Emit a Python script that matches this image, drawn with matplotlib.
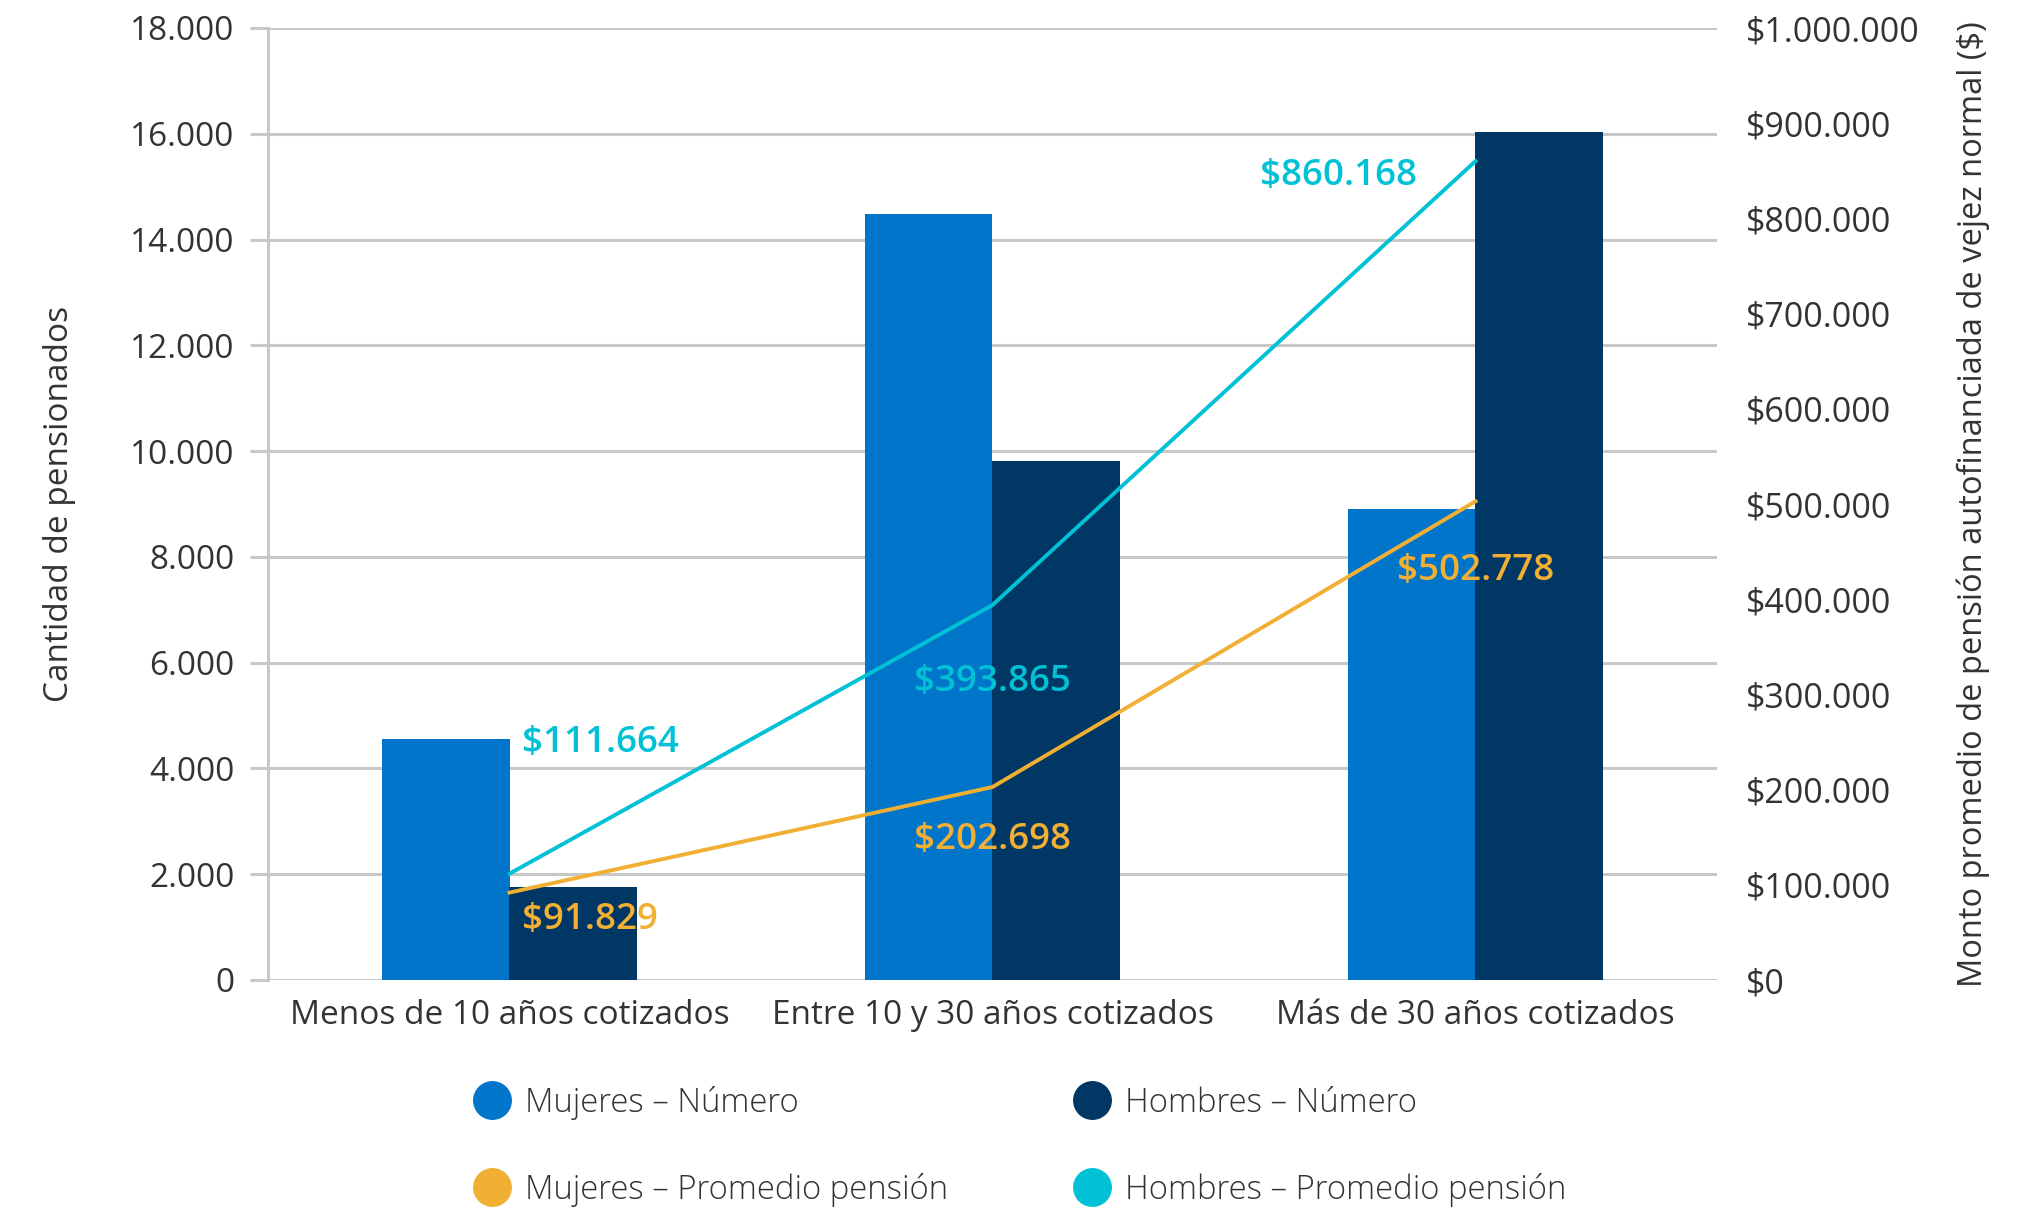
import matplotlib
matplotlib.use("Agg")
import matplotlib.pyplot as plt
from matplotlib.lines import Line2D
import numpy as np

categories = ["Menos de 10 años cotizados", "Entre 10 y 30 años cotizados", "Más de 30 años cotizados"]
mujeres_num = [4550, 14480, 8900]
hombres_num = [1760, 9820, 16030]
mujeres_prom = [91829, 202698, 502778]
hombres_prom = [111664, 393865, 860168]
left_ticks = list(range(0, 18001, 2000))
right_ticks = list(range(0, 1000001, 100000))

C_MUJ = "#0075C9"
C_HOM = "#003764"
C_MUJ_L = "#F1AF33"
C_HOM_L = "#00C1D6"
GRID = "#C8C8C8"
TXT = "#333333"

plt.rcParams["font.family"] = ["Open Sans", "DejaVu Sans"]

def fmt(v):
    return f"{int(round(v)):,}".replace(",", ".")

fig = plt.figure(figsize=(20.4, 12.08), dpi=100)
ax = fig.add_axes([268/2040, 1-980/1208, (1717-268)/2040, (980-28)/1208])
x = np.arange(len(categories))
w = 0.265
ax.bar(x - w/2, mujeres_num, width=w, color=C_MUJ, zorder=2)
ax.bar(x + w/2, hombres_num, width=w, color=C_HOM, zorder=2)
ax.set_xlim(-0.5, 2.5)
ax.set_ylim(0, 18000)
ax.set_yticks(left_ticks)
ax.set_yticklabels([fmt(v) for v in left_ticks])
ax.yaxis.grid(True, color=GRID, linewidth=2.2)
ax.set_axisbelow(True)
for s in ["top", "right", "bottom"]:
    ax.spines[s].set_visible(False)
ax.spines["left"].set_color(GRID)
ax.spines["left"].set_linewidth(2.2)
ax.tick_params(axis="y", length=13, width=2.2, color=GRID, pad=11, labelsize=24, labelcolor=TXT)
ax.set_xticks(x)
ax.set_xticklabels(categories)
ax.tick_params(axis="x", length=0, pad=14, labelsize=24, labelcolor=TXT)
ax.set_ylabel("Cantidad de pensionados", fontsize=24, color=TXT)
ax.yaxis.set_label_coords(-(268-76)/1449, 0.5)

ax2 = ax.twinx()
ax2.set_ylim(0, 1000000)
ax2.plot(x, hombres_prom, color=C_HOM_L, linewidth=2.8, zorder=3)
ax2.plot(x, mujeres_prom, color=C_MUJ_L, linewidth=2.8, zorder=3)
for s in ax2.spines.values():
    s.set_visible(False)
ax2.set_yticks(right_ticks)
ax2.set_yticklabels(["$" + fmt(v) for v in right_ticks])
ax2.tick_params(axis="y", length=0, pad=21, labelsize=24.5, labelcolor=TXT)
ax2.set_ylabel("Monto promedio de pensión autofinanciada de vejez normal ($)", fontsize=23.5, color=TXT)
ax2.yaxis.set_label_coords(1 + (1957-1717)/1449, 0.5)

offsets_h = [(12, 131, "left"), (0, -77, "center"), (-58, -15, "right")]
offsets_m = [(12, -27, "left"), (0, -53, "center"), (0, -70, "center")]
for i in range(3):
    dx, dy, ha = offsets_h[i]
    ax2.annotate("$" + fmt(hombres_prom[i]), (x[i], hombres_prom[i]), xytext=(dx, dy),
                 textcoords="offset pixels", ha=ha, va="center", color=C_HOM_L,
                 fontsize=26.5, fontweight="semibold", zorder=5)
    dx, dy, ha = offsets_m[i]
    ax2.annotate("$" + fmt(mujeres_prom[i]), (x[i], mujeres_prom[i]), xytext=(dx, dy),
                 textcoords="offset pixels", ha=ha, va="center", color=C_MUJ_L,
                 fontsize=26.5, fontweight="semibold", zorder=5)

handles = [
    Line2D([], [], marker="o", linestyle="none", markersize=27, color=C_MUJ),
    Line2D([], [], marker="o", linestyle="none", markersize=27, color=C_MUJ_L),
    Line2D([], [], marker="o", linestyle="none", markersize=27, color=C_HOM),
    Line2D([], [], marker="o", linestyle="none", markersize=27, color=C_HOM_L),
]
labels = ["Mujeres – Número", "Mujeres – Promedio pensión", "Hombres – Número", "Hombres – Promedio pensión"]
leg = fig.legend(handles, labels, ncol=2, loc="upper left", bbox_to_anchor=(475.5/2040, 1-1086/1208),
                 frameon=False, handlelength=1.0, handletextpad=0.5,
                 columnspacing=3.88, labelspacing=1.6, borderaxespad=0, borderpad=0,
                 prop={"weight": "light", "size": 23.7})
for t in leg.get_texts():
    t.set_color(TXT)

fig.savefig("out.png", dpi=100)
